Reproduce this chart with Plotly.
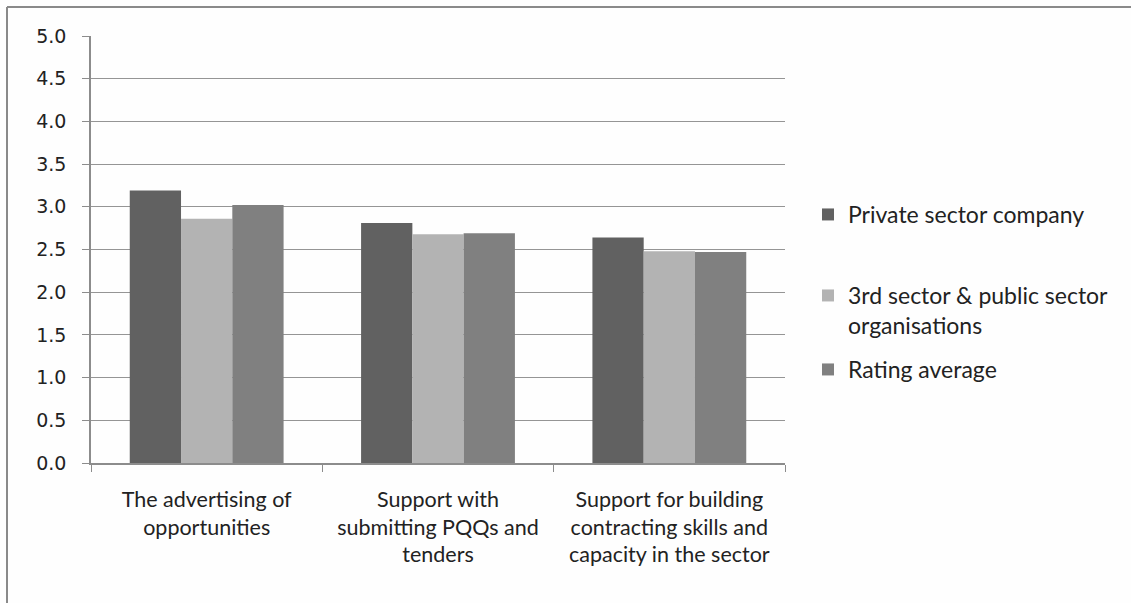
import plotly.graph_objects as go

# Survey ratings (scale 0-5) by area of support
categories = [
    "The advertising of<br>opportunities",
    "Support with<br>submitting PQQs and<br>tenders",
    "Support for building<br>contracting skills and<br>capacity in the sector",
]
private_sector = [3.19, 2.81, 2.64]
third_public_sector = [2.86, 2.68, 2.48]
rating_average = [3.02, 2.69, 2.47]

series_names = [
    "Private sector company",
    "3rd sector & public sector<br>organisations",
    "Rating average",
]
series_values = [private_sector, third_public_sector, rating_average]
series_colors = ["#616161", "#b3b3b3", "#808080"]
legend_ids = ["legend", "legend2", "legend3"]

y_ticks = [0, 0.5, 1, 1.5, 2, 2.5, 3, 3.5, 4, 4.5, 5]
y_tick_labels = ["0.0", "0.5", "1.0", "1.5", "2.0", "2.5", "3.0", "3.5", "4.0", "4.5", "5.0"]

label_font = "Lato, sans-serif"

fig = go.Figure()
for name, vals, color, lg in zip(series_names, series_values, series_colors, legend_ids):
    fig.add_trace(go.Bar(
        x=categories, y=vals, name=name, legend=lg,
        marker=dict(color=color, line=dict(width=0)),
    ))

W, H = 1131, 603
L, R, T, B = 91, 346, 36, 140
pw, ph = W - L - R, H - T - B

def px_x(x):
    return (x - L) / pw

def px_y(y):
    return (H - B - y) / ph

legend_common = dict(
    font=dict(family=label_font, size=23, color="#222222"),
    bgcolor="rgba(0,0,0,0)", xanchor="left", yanchor="top",
    valign="top", itemclick=False, itemdoubleclick=False,
)

fig.update_layout(
    width=W, height=H,
    margin=dict(l=L, r=R, t=T, b=B),
    paper_bgcolor="#fefefe", plot_bgcolor="#fefefe",
    showlegend=True,
    barmode="group", bargap=0.335, bargroupgap=0,
    legend=dict(x=px_x(808), y=px_y(193), **legend_common),
    legend2=dict(x=px_x(808), y=px_y(274), **legend_common),
    legend3=dict(x=px_x(808), y=px_y(348), **legend_common),
    xaxis=dict(
        tickson="boundaries", ticks="outside", ticklen=7, tickcolor="#8c8c8c",
        showline=True, linecolor="#8c8c8c", linewidth=1.5,
        showgrid=False,
        tickfont=dict(family=label_font, size=21.5, color="#222222"),
        ticklabelstandoff=16,
    ),
    yaxis=dict(
        range=[0, 5], tickvals=y_ticks, ticktext=y_tick_labels,
        ticks="outside", ticklen=7, tickcolor="#8c8c8c",
        showline=True, linecolor="#8c8c8c", linewidth=1.5,
        showgrid=True, gridcolor="#959595", gridwidth=1.3,
        zeroline=False,
        tickfont=dict(family="DejaVu Sans, Verdana, sans-serif", size=19, color="#222222"),
        ticklabelstandoff=12,
    ),
    shapes=[
        # outer frame: top and left edges
        dict(type="line", xref="paper", yref="paper",
             x0=px_x(7), x1=px_x(1140), y0=px_y(7), y1=px_y(7),
             line=dict(color="#8a8a8a", width=2)),
        dict(type="line", xref="paper", yref="paper",
             x0=px_x(7), x1=px_x(7), y0=px_y(7), y1=px_y(610),
             line=dict(color="#8a8a8a", width=2)),
    ],
)

fig.write_html("out.html")
